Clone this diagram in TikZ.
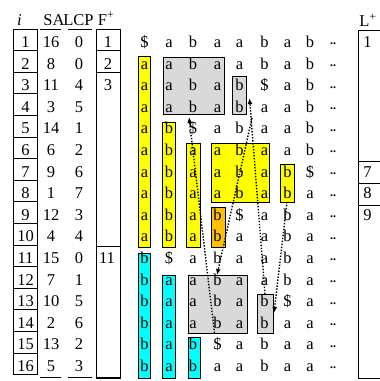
\documentclass[tikz,border=0pt]{standalone}
\usepackage{fontspec}
\setmainfont{Liberation Serif}
\usetikzlibrary{arrows.meta}
\definecolor{myorange}{HTML}{FFC000}
\definecolor{mygray}{HTML}{D9D9D9}
\definecolor{myyellow}{HTML}{FFFF00}
\definecolor{mycyan}{HTML}{00FFFF}
\newcommand{\grow}[9]{%
  \pgfmathsetmacro{\yb}{47.4+21.6*(#1-1)}%
  \node[ch] (r#1c0) at (144.5,\yb) {#2};
  \node[ch] (r#1c1) at (169,\yb) {#3};
  \node[ch] (r#1c2) at (193,\yb) {#4};
  \node[ch] (r#1c3) at (217.5,\yb) {#5};
  \node[ch] (r#1c4) at (239.5,\yb) {#6};
  \node[ch] (r#1c5) at (264.5,\yb) {#7};
  \node[ch] (r#1c6) at (287.5,\yb) {#8};
  \node[ch] (r#1c7) at (310,\yb) {#9};
  \node[dd] (r#1c8) at (333,\yb-2.5) {..};
}
\newcommand{\lrow}[3]{%
  \pgfmathsetmacro{\yb}{47.4+21.6*(#1-1)}%
  \pgfmathsetmacro{\yt}{29+21.6*(#1-1)}%
  \pgfmathsetmacro{\yB}{29+21.6*#1}%
  \draw[rule] (13.5,\yt) rectangle (37.5,\yB);
  \node[ch] (i#1) at (25.5,\yb) {#1};
  \node[ch] (sa#1) at (51,\yb) {#2};
  \node[ch] (lcp#1) at (79,\yb) {#3};
}
\begin{document}
\begin{tikzpicture}[x=1pt,y=-1pt,
  ch/.style={anchor=base,inner sep=0pt,font=\fontsize{16.5}{16.5}\selectfont},
  dd/.style={anchor=base,inner sep=0pt,font=\fontsize{12}{12}\selectfont\bfseries},
  rule/.style={draw=black,line width=0.8pt},
  ybox/.style={rule,fill=myyellow},
  cbox/.style={rule,fill=mycyan},
  gbox/.style={rule,fill=mygray},
  obox/.style={rule,fill=myorange},
  darrow/.style={line width=1.4pt,dash pattern=on 1.4pt off 1.6pt,-{Latex[length=6pt,width=5pt]}}]
\useasboundingbox (0,0) rectangle (380,381);
\clip (0,0) rectangle (380,381);
% headers
\node[ch,font=\fontsize{16.5}{16.5}\selectfont\itshape] (hi) at (19.5,25) {i};
\node[ch] (hsa) at (54,25) {SA};
\node[ch] (hlcp) at (78.5,25) {LCP};
\node[ch] (hf) at (106,25) {F\textsuperscript{+}};
\node[ch] (hl) at (368,26.5) {L\textsuperscript{+}};
% left table
\lrow{1}{16}{0}
\lrow{2}{8}{0}
\lrow{3}{11}{4}
\lrow{4}{3}{5}
\lrow{5}{14}{1}
\lrow{6}{6}{2}
\lrow{7}{9}{6}
\lrow{8}{1}{7}
\lrow{9}{12}{3}
\lrow{10}{4}{4}
\lrow{11}{15}{0}
\lrow{12}{7}{1}
\lrow{13}{10}{5}
\lrow{14}{2}{6}
\lrow{15}{13}{2}
\lrow{16}{5}{3}
\draw[rule] (40,29.5) -- (61,29.5) (68,29.5) -- (92,29.5);
\draw[rule] (40,377.5) -- (61,377.5) (68,377.5) -- (92,377.5);
% F+ column
\draw[rule] (96.7,378) -- (96.7,29.5) -- (120,29.5) -- (120,378);
\draw[draw=black,line width=2pt] (95.9,377.5) -- (120.8,377.5);
\draw[rule] (96.7,50.6) -- (120,50.6) (96.7,72.2) -- (120,72.2) (96.7,246) -- (120,246);
\node[ch] (f1) at (108,47.4) {1};
\node[ch] (f2) at (108,69) {2};
\node[ch] (f3) at (108,90.6) {3};
\node[ch] (f11) at (107,263.4) {11};
% L+ column
\draw[rule] (386,30) -- (358,30) -- (358,378) -- (386,378);
\draw[rule] (358,161.5) -- (386,161.5) (358,183.5) -- (386,183.5) (358,205) -- (386,205);
\node[ch] (l1) at (367.5,47.4) {1};
\node[ch] (l7) at (367.5,177) {7};
\node[ch] (l8) at (367.5,198.6) {8};
\node[ch] (l9) at (367.5,220.2) {9};
% coloured boxes
\draw[ybox] (138.5,56.5) rectangle (150.5,247.5);
\draw[cbox] (138.5,253) rectangle (150.5,378);
\draw[ybox] (162.5,122) rectangle (175.5,247.5);
\draw[cbox] (162.5,275) rectangle (175.5,378);
\draw[ybox] (186,143) rectangle (200,247.5);
\draw[obox] (211,207) rectangle (225,247.5);
\draw[ybox] (211,143) rectangle (269,202);
\draw[ybox] (280.5,164.5) rectangle (294.5,202);
\draw[gbox] (163,57) rectangle (224,114);
\draw[gbox] (232,76) rectangle (246.5,114);
\draw[gbox] (188,275) rectangle (247,333);
\draw[gbox] (257,294) rectangle (273.5,333);
\draw[cbox] (188,337) rectangle (200,378);
% text grid
\grow{1}{\$}{a}{b}{a}{a}{b}{a}{b}
\grow{2}{a}{a}{b}{a}{a}{b}{a}{b}
\grow{3}{a}{a}{b}{a}{b}{\$}{a}{b}
\grow{4}{a}{a}{b}{a}{b}{a}{a}{b}
\grow{5}{a}{b}{\$}{a}{b}{a}{a}{b}
\grow{6}{a}{b}{a}{a}{b}{a}{a}{b}
\grow{7}{a}{b}{a}{a}{b}{a}{b}{\$}
\grow{8}{a}{b}{a}{a}{b}{a}{b}{a}
\grow{9}{a}{b}{a}{b}{\$}{a}{b}{a}
\grow{10}{a}{b}{a}{b}{a}{a}{b}{a}
\grow{11}{b}{\$}{a}{b}{a}{a}{b}{a}
\grow{12}{b}{a}{a}{b}{a}{a}{b}{a}
\grow{13}{b}{a}{a}{b}{a}{b}{\$}{a}
\grow{14}{b}{a}{a}{b}{a}{b}{a}{a}
\grow{15}{b}{a}{b}{\$}{a}{b}{a}{a}
\grow{16}{b}{a}{b}{a}{a}{b}{a}{a}
% arrows
\coordinate (aS) at (265,294);
\coordinate (aE) at (249.5,98);
\coordinate (bS) at (287,202);
\coordinate (bE) at (274,313);
\coordinate (cS) at (214.5,333);
\coordinate (cE) at (189,117);
\coordinate (dS) at (252,118);
\coordinate (dE) at (217,275);
\draw[darrow] (aS) -- (aE);
\draw[darrow] (bS) -- (bE);
\draw[darrow] (cS) -- (cE);
\draw[darrow] (dS) -- (dE);
\end{tikzpicture}
\end{document}
